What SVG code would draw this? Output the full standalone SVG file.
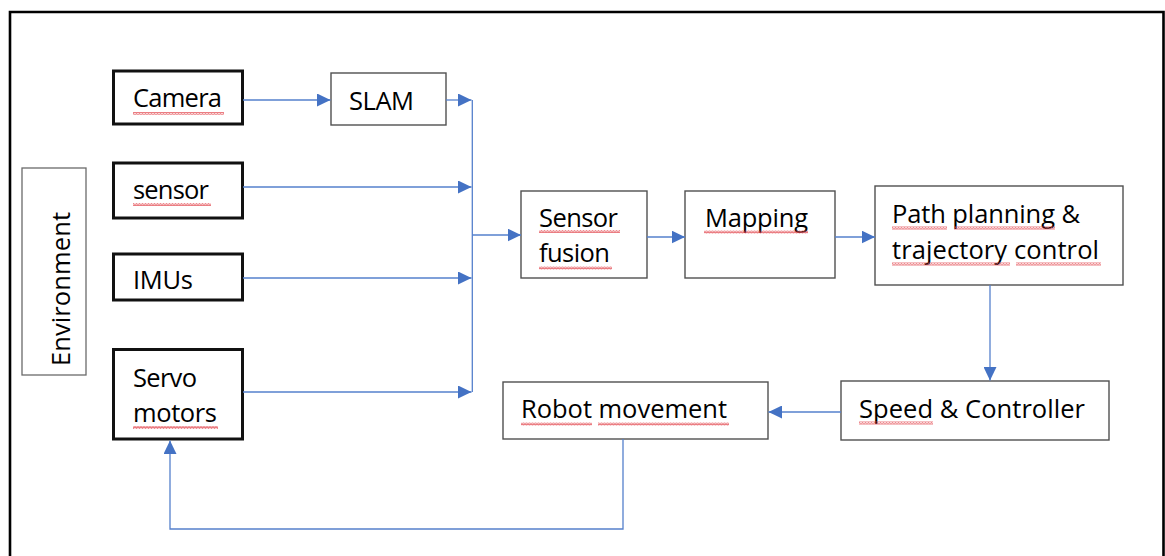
<svg xmlns="http://www.w3.org/2000/svg" width="1165" height="556" viewBox="0 0 1165 556">
  <style>
    .frame { fill: none; stroke: #000; stroke-width: 2.6; }
    .box-in { fill: #fff; stroke: #111; stroke-width: 3; }
    .box { fill: #fff; stroke: #505050; stroke-width: 1.4; }
    .box-env { fill: #fff; stroke: #6a6a6a; stroke-width: 1.3; }
    .label { font-family: "Open Sans", "Liberation Sans", sans-serif; font-size: 25.5px; fill: #000; }
    .link { fill: none; stroke: #5580cc; stroke-width: 1.3; }
    .arrow { marker-end: url(#head); }
    .squiggle { fill: url(#wave); }
  </style>
  <defs>
    <marker id="head" markerUnits="userSpaceOnUse" markerWidth="14" markerHeight="13" refX="13.5" refY="6.5" orient="auto">
      <path d="M0,0 L13.5,6.5 L0,13 Z" fill="#4472c4"/>
    </marker>
    <pattern id="wave" patternUnits="userSpaceOnUse" width="3" height="3">
      <path d="M0,2.6 L0.75,0.4 L1.5,2.6 L2.25,0.4 L3,2.6" fill="none" stroke="#e2474f" stroke-width="0.7"/>
    </pattern>
  </defs>

  <rect width="1165" height="556" fill="#fff"/>
  <path class="frame" d="M10,556 V12 H1163.5 V556"/>

  <g id="environment">
    <rect class="box-env" x="22" y="168" width="64" height="207"/>
    <text class="label" transform="translate(70,366) rotate(-90)" textLength="154">Environment</text>
  </g>

  <g id="camera">
    <rect class="box-in" x="113.5" y="71" width="129" height="53"/>
    <text class="label" x="133" y="107" textLength="89">Camera</text>
    <rect class="squiggle" x="133" y="112" width="91" height="3"/>
  </g>

  <g id="sensor">
    <rect class="box-in" x="113.5" y="163" width="129" height="55"/>
    <text class="label" x="133" y="199" textLength="76">sensor</text>
    <rect class="squiggle" x="133" y="203" width="78" height="3"/>
  </g>

  <g id="imus">
    <rect class="box-in" x="113.5" y="254" width="129" height="46"/>
    <text class="label" x="133" y="289" textLength="60">IMUs</text>
  </g>

  <g id="servo-motors">
    <rect class="box-in" x="113.5" y="349.5" width="129" height="89.5"/>
    <text class="label" x="133" y="387" textLength="64">Servo</text>
    <text class="label" x="133" y="422" textLength="84">motors</text>
    <rect class="squiggle" x="133" y="426" width="85" height="3"/>
  </g>

  <g id="slam">
    <rect class="box" x="331" y="73" width="115" height="52"/>
    <text class="label" x="349" y="110" textLength="65">SLAM</text>
  </g>

  <g id="sensor-fusion">
    <rect class="box" x="521" y="191" width="126" height="87"/>
    <text class="label" x="539" y="227" textLength="79">Sensor</text>
    <text class="label" x="539" y="262" textLength="71">fusion</text>
    <rect class="squiggle" x="539" y="230" width="81" height="3"/>
    <rect class="squiggle" x="539" y="266.5" width="73" height="3"/>
  </g>

  <g id="mapping">
    <rect class="box" x="685" y="191" width="150" height="87"/>
    <text class="label" x="705" y="227" textLength="103">Mapping</text>
    <rect class="squiggle" x="704" y="230.5" width="104" height="3"/>
  </g>

  <g id="path-planning">
    <rect class="box" x="875" y="186" width="248" height="99"/>
    <text class="label" x="892" y="223" textLength="188">Path planning &amp;</text>
    <text class="label" x="892" y="259" textLength="207">trajectory control</text>
    <rect class="squiggle" x="892" y="226.5" width="55" height="3"/>
    <rect class="squiggle" x="954" y="226.5" width="101" height="3"/>
    <rect class="squiggle" x="892" y="262.5" width="118" height="3"/>
    <rect class="squiggle" x="1016" y="262.5" width="85" height="3"/>
  </g>

  <g id="speed-controller">
    <rect class="box" x="841" y="381" width="268" height="59"/>
    <text class="label" x="859" y="418" textLength="226">Speed &amp; Controller</text>
    <rect class="squiggle" x="859" y="421.5" width="74" height="3"/>
  </g>

  <g id="robot-movement">
    <rect class="box" x="503" y="382" width="265" height="57"/>
    <text class="label" x="521" y="418" textLength="206">Robot movement</text>
    <rect class="squiggle" x="521" y="422.5" width="71" height="3"/>
    <rect class="squiggle" x="598" y="422.5" width="131" height="3"/>
  </g>

  <g id="connectors">
    <path class="link arrow" d="M243,100 H330.5"/>
    <path class="link arrow" d="M446,100 H471.5"/>
    <path class="link" d="M472.3,100 V392"/>
    <path class="link arrow" d="M243,187 H471.5"/>
    <path class="link arrow" d="M243,278 H471.5"/>
    <path class="link arrow" d="M243,392 H471.5"/>
    <path class="link arrow" d="M472.3,235 H521"/>
    <path class="link arrow" d="M647,237 H685"/>
    <path class="link arrow" d="M835,237 H875"/>
    <path class="link arrow" d="M990,285 V380.5"/>
    <path class="link arrow" d="M841,412 H768.5"/>
    <path class="link arrow" d="M623,439 V529 H170 V440.5"/>
  </g>
</svg>
